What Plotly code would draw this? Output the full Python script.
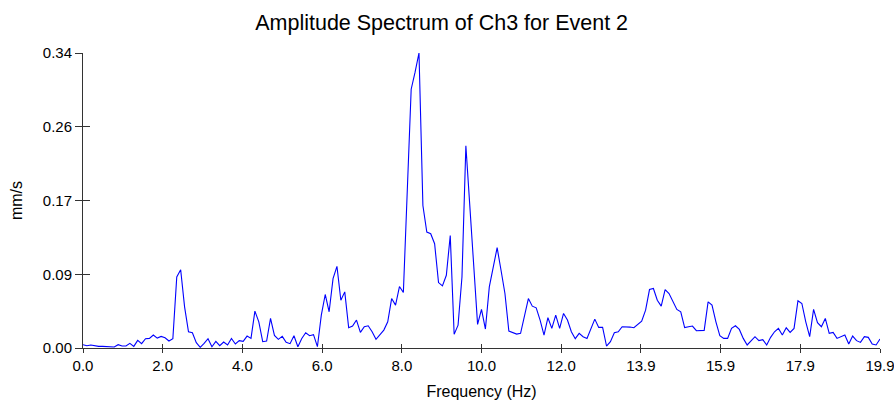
import plotly.graph_objects as go

# FFT bin spacing (Hz) and amplitude per bin (mm/s)
freq_step = 0.09765625
amplitude = [
    0.0038, 0.0027, 0.0035, 0.0023, 0.0019, 0.0019, 0.0019, 0.0019, 0.0012, 0.0038,
    0.0023, 0.0023, 0.0054, 0.0019, 0.0088, 0.0050, 0.0108, 0.0111, 0.0150, 0.0115,
    0.0134, 0.0119, 0.0081, 0.0108, 0.0822, 0.0905, 0.0476, 0.0188, 0.0177, 0.0061,
    0.0008, 0.0054, 0.0108, 0.0015, 0.0077, 0.0027, 0.0069, 0.0035, 0.0111, 0.0046,
    0.0085, 0.0077, 0.0138, 0.0111, 0.0426, 0.0303, 0.0073, 0.0081, 0.0342, 0.0146,
    0.0100, 0.0134, 0.0065, 0.0050, 0.0142, 0.0015, 0.0111, 0.0177, 0.0142, 0.0154,
    0.0015, 0.0380, 0.0619, 0.0419, 0.0803, 0.0945, 0.0553, 0.0649, 0.0234, 0.0254,
    0.0323, 0.0181, 0.0246, 0.0257, 0.0188, 0.0100, 0.0150, 0.0207, 0.0303, 0.0572,
    0.0496, 0.0711, 0.0642, 0.1850, 0.2993, 0.3190, 0.3412, 0.1648, 0.1341, 0.1322,
    0.1206, 0.0757, 0.0718, 0.0841, 0.1302, 0.0158, 0.0265, 0.0822, 0.2340, 0.1650,
    0.0950, 0.0273, 0.0446, 0.0219, 0.0707, 0.0937, 0.1160, 0.0899, 0.0630, 0.0196,
    0.0177, 0.0161, 0.0169, 0.0380, 0.0572, 0.0484, 0.0465, 0.0323, 0.0150, 0.0350,
    0.0227, 0.0380, 0.0227, 0.0400, 0.0323, 0.0188, 0.0108, 0.0169, 0.0131, 0.0111,
    0.0227, 0.0334, 0.0238, 0.0238, 0.0023, 0.0073, 0.0177, 0.0188, 0.0246, 0.0246,
    0.0242, 0.0234, 0.0273, 0.0311, 0.0438, 0.0676, 0.0688, 0.0553, 0.0484, 0.0676,
    0.0630, 0.0534, 0.0446, 0.0419, 0.0236, 0.0246, 0.0254, 0.0200, 0.0204, 0.0204,
    0.0534, 0.0496, 0.0303, 0.0142, 0.0111, 0.0111, 0.0227, 0.0257, 0.0215, 0.0111,
    0.0035, 0.0085, 0.0131, 0.0085, 0.0096, 0.0035, 0.0123, 0.0188, 0.0227, 0.0150,
    0.0234, 0.0181, 0.0227, 0.0546, 0.0515, 0.0303, 0.0131, 0.0446, 0.0292, 0.0246,
    0.0342, 0.0169, 0.0181, 0.0111, 0.0131, 0.0150, 0.0046, 0.0138, 0.0085, 0.0065,
    0.0131, 0.0123, 0.0046, 0.0035, 0.0104,
]
frequency = [i * freq_step for i in range(len(amplitude))]

x_max = frequency[-1]
y_max = max(amplitude)
x_divisions = 10
y_divisions = 4
x_tickvals = [x_max * k / x_divisions for k in range(x_divisions + 1)]
x_ticktext = ["%.1f" % v for v in x_tickvals]
y_tickvals = [y_max * k / y_divisions for k in range(y_divisions + 1)]
y_ticktext = ["%.2f" % v for v in y_tickvals]

title_text = "Amplitude Spectrum of Ch3 for Event 2"
x_title = "Frequency (Hz)"
y_title = "mm/s"

FONT = "Liberation Sans, Arial, sans-serif"
AXC = "#333333"
TICKSIZE = 15

fig = go.Figure()
fig.add_trace(go.Scatter(x=frequency, y=amplitude, mode="lines",
                         line=dict(color="#0000FF", width=1.1),
                         hoverinfo="x+y", showlegend=False))
# transparent copy to anchor the inside-tick overlay axes
fig.add_trace(go.Scatter(x=frequency, y=amplitude, mode="lines",
                         line=dict(color="rgba(0,0,0,0)", width=0),
                         xaxis="x2", yaxis="y2", hoverinfo="skip", showlegend=False))

fig.update_layout(
    width=894, height=400,
    margin=dict(l=83, r=14, t=53, b=52, autoexpand=False),
    paper_bgcolor="white", plot_bgcolor="white",
    font=dict(family=FONT, size=16, color="black"),
    title=dict(text=title_text, x=0.494, xref="container", xanchor="center",
               y=0.945, yref="container", yanchor="middle", automargin=False,
               font=dict(family=FONT, size=21.5, color="black")),
    xaxis=dict(range=[0, x_max], showgrid=False, zeroline=False, automargin=False,
               showline=True, linecolor=AXC, linewidth=1,
               ticks="outside", ticklen=4, tickcolor=AXC, tickwidth=1,
               tickvals=x_tickvals, ticktext=x_ticktext, ticklabeloverflow="allow",
               tickfont=dict(family=FONT, size=TICKSIZE, color="black"),
               title=dict(text=x_title, standoff=13,
                          font=dict(family=FONT, size=16, color="black"))),
    xaxis2=dict(range=[0, x_max], overlaying="x", anchor="y", side="bottom",
                showgrid=False, zeroline=False, showline=False, automargin=False,
                ticks="inside", ticklen=4, tickcolor=AXC, tickwidth=1,
                tickvals=x_tickvals, showticklabels=False),
    yaxis=dict(range=[0, y_max], showgrid=False, zeroline=False, automargin=False,
               showline=True, linecolor=AXC, linewidth=1,
               ticks="outside", ticklen=7, tickcolor=AXC, tickwidth=1,
               tickvals=y_tickvals, ticktext=y_ticktext, ticklabeloverflow="allow",
               tickfont=dict(family=FONT, size=TICKSIZE, color="black"),
               title=dict(text=y_title, standoff=16,
                          font=dict(family=FONT, size=16, color="black"))),
    yaxis2=dict(range=[0, y_max], overlaying="y", anchor="x", side="left",
                showgrid=False, zeroline=False, showline=False, automargin=False,
                ticks="inside", ticklen=7, tickcolor=AXC, tickwidth=1,
                tickvals=y_tickvals, showticklabels=False),
)

fig.write_html("out.html", config={"displayModeBar": False},
               post_script="document.body.style.margin='0';document.body.style.overflow='hidden';")
